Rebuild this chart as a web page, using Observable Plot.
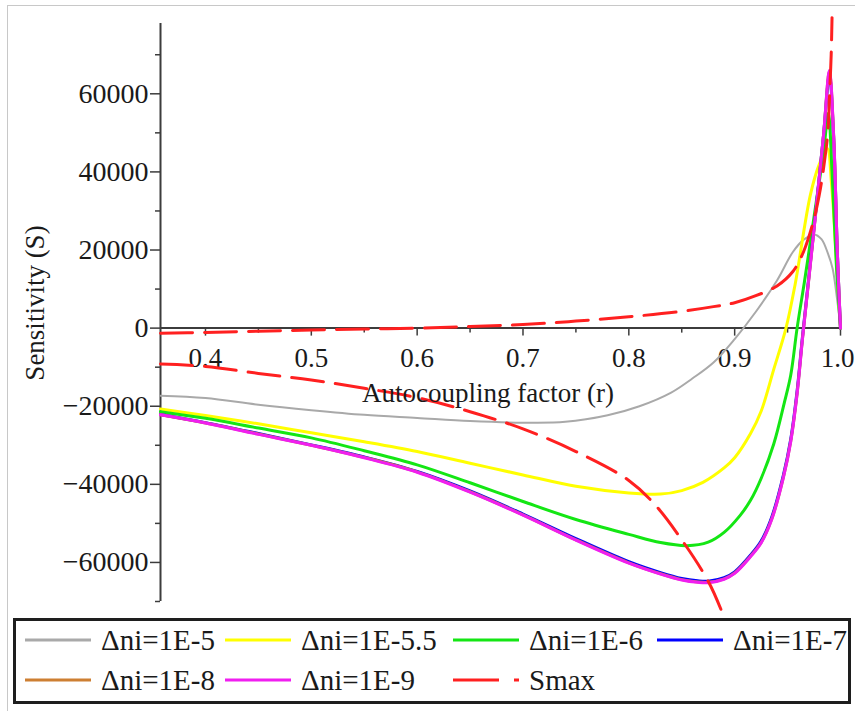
<!DOCTYPE html>
<html>
<head>
<meta charset="utf-8">
<script src="https://cdn.jsdelivr.net/npm/d3@7"></script>
<script src="https://cdn.jsdelivr.net/npm/@observablehq/plot@0.6"></script>
<style>
  body { margin: 0; background: #fff; }
  #wrap { position: relative; width: 855px; height: 711px; overflow: hidden;
          font-family: "Liberation Serif", "Times New Roman", "DejaVu Serif", serif; color: #1a1a1a; }
  #frame { position: absolute; left: 7px; top: 5px; width: 848px; height: 706px;
           border-left: 1px solid #c8c8c8; border-top: 1px solid #c8c8c8; box-sizing: border-box; }
  #chart { position: absolute; left: 0; top: 0; }
  .title { position: absolute; font-size: 27px; white-space: nowrap; line-height: 1; }
  #xtitle { left: 488px; top: 393px; transform: translate(-50%, -50%); }
  #ytitle { left: 35px; top: 303px; transform: translate(-50%, -50%) rotate(-90deg); }
  #legend { position: absolute; left: 13px; top: 618px; width: 838px; height: 86px;
            border: 3px solid #1e1e1e; box-sizing: border-box; }
  .entry { position: absolute; display: flex; align-items: center; height: 34px;
           font-size: 29px; white-space: nowrap; transform: translateY(-50%); }
  .entry svg { margin-right: 10px; }
</style>
</head>
<body>
<div id="wrap">
  <div id="frame"></div>
  <div id="chart"></div>
  <div id="xtitle" class="title">Autocoupling factor (r)</div>
  <div id="ytitle" class="title">Sensitivity (S)</div>
  <div id="legend"></div>
</div>
<script>
// ---------- data ----------
const xMin = 0.3575;
const xMajor = [0.4, 0.5, 0.6, 0.7, 0.8, 0.9, 1.0];
const xMinor = [0.45, 0.55, 0.65, 0.75, 0.85, 0.95];
const yMajor = [-60000, -40000, -20000, 0, 20000, 40000, 60000];
const yMinor = [-70000, -50000, -30000, -10000, 10000, 30000, 50000, 70000];

const seriesNames = ["Δni=1E-5", "Δni=1E-5.5", "Δni=1E-6", "Δni=1E-7", "Δni=1E-8", "Δni=1E-9", "Smax"];
const seriesColors = ["#a9a9a9", "#ffff00", "#14e614", "#0000ff", "#cd7f32", "#f01ef0", "#ff2020"];

// Δni = 1E-5
const rGray = [0.3575,0.40,0.45,0.50,0.55,0.60,0.65,0.70,0.74,0.78,0.81,0.84,0.86,0.88,0.90,0.92,0.94,0.955,0.965,0.975,0.982,0.988,0.9925,0.997,1.0];
const sGray = [-17300,-17900,-19600,-21000,-22200,-23000,-23800,-24200,-24000,-22300,-20000,-16500,-12900,-8800,-2800,4200,12200,19500,22600,24000,22800,19200,15300,6900,0];

// Δni = 1E-5.5
const rYellow = [0.3575,0.40,0.45,0.50,0.55,0.60,0.65,0.70,0.75,0.80,0.83,0.85,0.87,0.89,0.90,0.915,0.925,0.937,0.9485,0.957,0.9716,0.980,0.9875,0.9915,0.996,1.0];
const sYellow = [-20700,-22400,-24500,-26800,-29100,-31600,-34600,-37600,-40500,-42200,-42500,-41600,-39500,-35800,-33200,-27000,-21300,-10500,0,11000,34200,42000,46000,37000,18000,0];

// Δni = 1E-6
const rGreen = [0.3575,0.40,0.45,0.50,0.55,0.60,0.65,0.70,0.75,0.80,0.83,0.855,0.875,0.89,0.905,0.915,0.925,0.937,0.947,0.953,0.959,0.966,0.9716,0.978,0.984,0.9885,0.992,0.996,1.0];
const sGreen = [-21400,-23100,-25600,-28100,-31400,-35000,-39600,-44400,-49000,-52800,-54900,-55700,-54800,-52300,-48000,-44100,-38500,-29600,-19000,-12000,0,12000,22200,34000,45000,55000,40000,16600,0];

// Δni = 1E-7, 1E-8, 1E-9 share the same r samples
const rSmall = [0.3575,0.40,0.45,0.50,0.55,0.60,0.65,0.70,0.75,0.80,0.83,0.85,0.865,0.875,0.89,0.90,0.915,0.925,0.935,0.946,0.953,0.959,0.964,0.9745,0.984,0.9895,0.9935,0.997,1.0];
const sBlue    = [-22100,-24200,-27000,-29900,-33000,-36700,-41700,-47600,-53900,-59800,-62600,-64100,-64700,-64800,-63900,-62400,-58100,-54500,-48400,-37700,-28400,-16100,-2400,24400,49500,64800,48900,19400,0];
const sOrange  = [-22200,-24300,-27100,-30000,-33100,-36800,-41900,-47800,-54200,-60100,-62900,-64400,-65000,-65100,-64200,-62700,-58400,-54900,-48900,-38200,-28900,-16700,-2900,24000,49500,65800,49400,19500,0];
const sMagenta = [-22200,-24300,-27200,-30000,-33200,-36900,-42000,-47900,-54300,-60200,-63000,-64500,-65100,-65200,-64300,-62800,-58500,-55000,-49000,-38300,-29000,-16800,-3000,24000,49500,66000,49500,19600,0];

// Smax (two branches)
const rSmaxUpper = [0.3575,0.40,0.45,0.50,0.55,0.60,0.65,0.70,0.75,0.80,0.85,0.88,0.90,0.92,0.94,0.955,0.965,0.975,0.981,0.985,0.988,0.990,0.9912,0.9920];
const sSmaxUpper = [-1300,-1100,-800,-500,-250,0,400,900,1800,2900,4300,5500,6500,8300,10800,14500,19500,28000,35700,43000,50000,62000,70000,79500];
const rSmaxLower = [0.3575,0.40,0.45,0.50,0.55,0.60,0.65,0.70,0.75,0.80,0.825,0.85,0.875,0.887];
const sSmaxLower = [-9200,-9800,-11600,-13300,-15400,-17800,-21400,-25800,-31600,-39000,-45300,-54200,-64800,-72000];

// ---------- build ----------
const rows = (r, s, branch) => r.map((x, i) => ({r: x, s: s[i], branch}));
const axisColor = "#3c3c3c";
const fmt = d => (d < 0 ? "\u2212" : "") + Math.abs(d);

const curves = [
  [rGray, sGray, 2],
  [rYellow, sYellow, 3],
  [rGreen, sGreen, 3],
  [rSmall, sBlue, 3],
  [rSmall, sOrange, 3],
  [rSmall, sMagenta, 3]
];

const smaxRows = rows(rSmaxUpper, sSmaxUpper, "upper").concat(rows(rSmaxLower, sSmaxLower, "lower"));

const chart = Plot.plot({
  width: 855,
  height: 612,
  marginLeft: 160,
  marginRight: 15,
  marginTop: 23,
  marginBottom: 11,
  x: {domain: [xMin, 1.0], axis: null},
  y: {domain: [-70000, 78000], label: null},
  style: {fontFamily: '"Liberation Serif", "Times New Roman", "DejaVu Serif", serif', fontSize: "28px", color: "#1a1a1a", background: "transparent", overflow: "visible"},
  marks: [
    Plot.ruleY([0], {stroke: axisColor, strokeWidth: 2}),
    Plot.ruleX([xMin], {stroke: axisColor, strokeWidth: 2}),
    Plot.ruleY(yMinor, {y: d => d, x1: xMin, x2: xMin, insetLeft: -5, stroke: axisColor, strokeWidth: 1.5}),
    Plot.axisY({ticks: yMajor, tickSize: 10, tickPadding: 2, tickFormat: fmt, fontSize: 28, label: null, stroke: axisColor, strokeWidth: 1.5, fill: "#1a1a1a"}),
    Plot.ruleX(xMinor, {x: d => d, y1: 0, y2: 0, insetBottom: -5, stroke: axisColor, strokeWidth: 1.5}),
    Plot.ruleX(xMajor, {x: d => d, y1: 0, y2: 0, insetBottom: -8, stroke: axisColor, strokeWidth: 1.5}),
    Plot.text(xMajor, {x: d => d, y: 0, dy: 30, text: d => d.toFixed(1), fontSize: 27, fill: "#1a1a1a"}),
    ...curves.map(([r, s, w], i) => Plot.line(rows(r, s, seriesNames[i]), {
      x: "r", y: "s", stroke: seriesColors[i], strokeWidth: w, curve: "catmull-rom"
    })),
    Plot.line(smaxRows, {x: "r", y: "s", z: "branch", stroke: seriesColors[6], strokeWidth: 3,
      strokeDasharray: "32,12", curve: "catmull-rom"})
  ]
});
document.getElementById("chart").appendChild(chart);

// nudge the right-most x tick label so it stays inside the picture
chart.querySelectorAll("text").forEach(t => { if (t.textContent === "1.0") t.setAttribute("dx", "-3"); });

// ---------- legend ----------
const legend = document.getElementById("legend");
const colLeft = [9, 209, 437, 641];
const rowMid = [19, 59];
seriesNames.forEach((name, i) => {
  const e = document.createElement("div");
  e.className = "entry";
  e.style.left = colLeft[i % 4] + "px";
  e.style.top = rowMid[Math.floor(i / 4)] + "px";
  const dash = name === "Smax" ? ' stroke-dasharray="46,15,5,100"' : "";
  e.innerHTML = `<svg width="66" height="8"><line x1="0" y1="4" x2="66" y2="4" stroke="${seriesColors[i]}" stroke-width="3"${dash}/></svg><span>${name}</span>`;
  legend.appendChild(e);
});
</script>
</body>
</html>
